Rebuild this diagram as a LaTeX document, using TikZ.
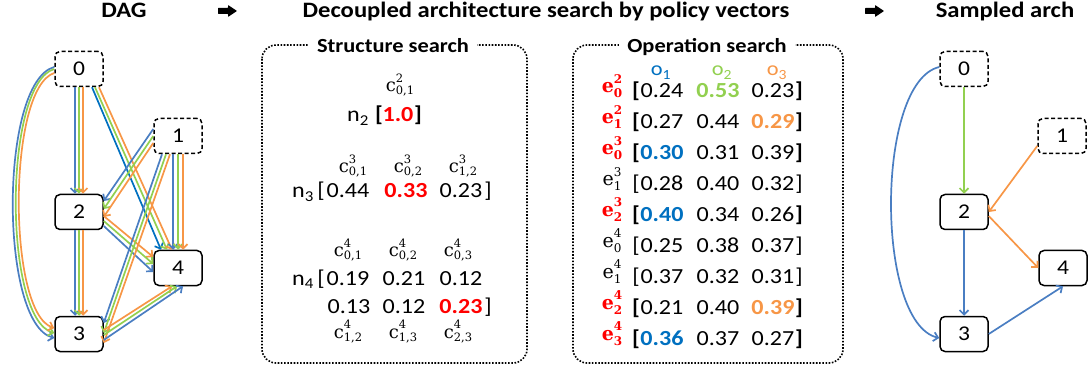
\documentclass[tikz,border=0pt]{standalone}
\usepackage[no-math]{fontspec}
\setmainfont[FakeStretch=1.12]{Carlito}
\newfontfamily\lserif{DejaVu Serif}
\usetikzlibrary{arrows.meta}
\definecolor{eblue}{HTML}{4A7EC2}
\definecolor{egreen}{HTML}{92D050}
\definecolor{eorange}{HTML}{F79646}
\definecolor{dblue}{HTML}{0070C0}
\definecolor{ered}{HTML}{FF0000}
\newcommand\numfont{\fontsize{21.5}{21.5}\selectfont}
\newcommand\scr{\fontsize{11.5}{11.5}\selectfont}
\newcommand\escr{\fontsize{12}{12}\selectfont}
\newcommand\Cl[2]{{\lserif\fontsize{18}{18}\selectfont c\rlap{\raisebox{9.5pt}{\scr #1}}\raisebox{-3pt}{\scr #2}}}
\newcommand\Ek[2]{{\lserif\fontsize{19}{19}\selectfont e\rlap{\raisebox{9.5pt}{\escr #1}}\raisebox{-5pt}{\escr #2}}}
\newcommand\Er[2]{\textcolor{ered}{\lserif\bfseries\fontsize{19}{19}\selectfont e\rlap{\raisebox{9.5pt}{\escr #1}}\raisebox{-5pt}{\escr #2}}}
\newcommand\Vb[2]{\textcolor{#1}{\bfseries #2}}
\tikzset{
  gbox/.style={draw, line width=1.5pt, rounded corners=5pt, minimum width=48pt,
    minimum height=35pt, inner sep=0pt, fill=white, font=\fontsize{21}{21}\selectfont},
  inbox/.style={gbox, dash pattern=on 4pt off 2.5pt},
  conn/.style={line width=1.7pt, -{Straight Barb[length=4.5pt,width=9pt]}},
  eB/.style={conn, draw=eblue}, eG/.style={conn, draw=egreen},
  eO/.style={conn, draw=eorange}, eD/.style={conn, draw=dblue},
  ttl/.style={font=\bfseries\fontsize{22}{22}\selectfont, inner sep=0pt, anchor=base},
  ptl/.style={font=\bfseries\fontsize{20}{20}\selectfont, inner xsep=8pt, inner ysep=3pt, anchor=base, fill=white},
  panel/.style={draw, line width=1.6pt, dash pattern=on 1.6pt off 1.6pt, rounded corners=14pt},
  num/.style={font=\numfont, inner sep=0pt, anchor=base},
  clab/.style={inner sep=0pt, anchor=base},
  elab/.style={inner sep=0pt, anchor=base},
  olab/.style={font=\fontsize{20}{20}\selectfont, inner sep=0pt, anchor=base},
  bigarrow/.style={fill=black, rounded corners=0.5pt},
}
\newcommand\OpRow[7]{%
  \node[elab] (e#1) at (612,#2-5) {#3};
  \node[num] (lb#1) at (636,#2) {#7[};
  \node[num] (a#1) at (662,#2) {#4};
  \node[num] (b#1) at (718,#2) {#5};
  \node[num] (c#1) at (773,#2) {#6};
  \node[num] (rb#1) at (799,#2) {#7]};
}
\begin{document}
\begin{tikzpicture}[x=1pt, y=-1pt]
\useasboundingbox (0,0) rectangle (1089,371);

% ---------- titles ----------
\node[ttl] (tdag) at (124,18) {DAG};
\fill[bigarrow] (218,8) -- (228,8) -- (228,5) -- (237,11) -- (228,17) -- (228,14) -- (218,14) -- cycle;
\node[ttl] (tmain) at (546,18) {Decoupled architecture search by policy vectors};
\fill[bigarrow] (865,8) -- (875,8) -- (875,5) -- (884,11) -- (875,17) -- (875,14) -- (865,14) -- cycle;
\node[ttl] (tsamp) at (1005,18) {Sampled arch};

% ---------- DAG ----------
\node[inbox] (d0) at (79,69) {0};
\node[inbox] (d1) at (178,136) {1};
\node[gbox] (d2) at (79,212) {2};
\node[gbox] (d4) at (178,268) {4};
\node[gbox] (d3) at (79,334) {3};

% 0 -> 3 (curves)
\draw[eB] ([yshift=2pt]d0.west) .. controls +(-55,15) and +(-55,-15) .. ([yshift=-4pt]d3.west);
\draw[eG] (d0.west) .. controls +(-51,15) and +(-51,-15) .. ([yshift=1pt]d3.west);
\draw[eO] ([yshift=-4pt]d0.west) .. controls +(-47,15) and +(-47,-15) .. ([yshift=6pt]d3.west);
% 0 -> 2
\draw[eB] ([xshift=-4pt]d0.south) -- ([xshift=-4pt]d2.north);
\draw[eG] (d0.south) -- (d2.north);
\draw[eO] ([xshift=4pt]d0.south) -- ([xshift=4pt]d2.north);
% 0 -> 4
\draw[eD] ([xshift=13pt]d0.south) -- ([xshift=-17pt]d4.north);
\draw[eG] ([xshift=16pt]d0.south) -- ([xshift=-11pt]d4.north);
\draw[eO] ([xshift=20pt]d0.south) -- ([xshift=-6pt]d4.north);
% 1 -> 4
\draw[eB] ([xshift=-5pt]d1.south) -- ([xshift=-5pt]d4.north);
\draw[eG] (d1.south) -- (d4.north);
\draw[eO] ([xshift=5pt]d1.south) -- ([xshift=5pt]d4.north);
% 1 -> 2
\draw[eB] ([yshift=7pt]d1.west) -- ([yshift=11pt]d2.east);
\draw[eG] (d1.west) -- ([yshift=3pt]d2.east);
\draw[eO] ([yshift=-7pt]d1.west) -- ([yshift=-5pt]d2.east);
% 2 -> 4
\draw[eO] ([yshift=-4pt]d2.east) -- ([yshift=11pt]d4.west);
\draw[eG] ([yshift=-9pt]d2.east) -- ([yshift=4pt]d4.west);
\draw[eB] ([yshift=-14pt]d2.east) -- ([yshift=-4pt]d4.west);
% 2 -> 3
\draw[eB] ([xshift=-4pt]d2.south) -- ([xshift=-4pt]d3.north);
\draw[eG] (d2.south) -- (d3.north);
\draw[eO] ([xshift=4pt]d2.south) -- ([xshift=4pt]d3.north);
% 1 -> 3
\draw[eB] ([xshift=-16pt]d1.south) -- ([yshift=11pt]d3.east);
\draw[eG] ([xshift=-12pt]d1.south) -- ([yshift=1pt]d3.east);
\draw[eO] ([xshift=-8pt]d1.south) -- ([yshift=-9pt]d3.east);
% 3 -> 4
\draw[eO] ([yshift=4pt]d3.east) -- ([xshift=-6pt]d4.south);
\draw[eG] ([yshift=-1pt]d3.east) -- ([xshift=-1pt]d4.south);
\draw[eB] ([yshift=-6pt]d3.east) -- ([xshift=5pt]d4.south);

% ---------- Structure search ----------
\draw[panel] (262,45) rectangle (527,363);
\node[ptl] (tss) at (393,53) {Structure search};

\node[clab] (c2a) at (400,92) {\Cl{2}{0,1}};
\node[num] (n2) at (358,122) {n\textsubscript{2}};
\node[num] (n2l) at (379,122) {\bfseries [};
\node[num] (n2v) at (398,122) {\Vb{ered}{1.0}};
\node[num] (n2r) at (418,122) {\bfseries ]};

\node[clab] (c3a) at (353,173) {\Cl{3}{0,1}};
\node[clab] (c3b) at (408,173) {\Cl{3}{0,2}};
\node[clab] (c3c) at (463,173) {\Cl{3}{1,2}};
\node[num] (n3) at (303,198) {n\textsubscript{3}};
\node[num] (n3l) at (321,198) {[};
\node[num] (n3a) at (348,198) {0.44};
\node[num] (n3b) at (406,198) {\Vb{ered}{0.33}};
\node[num] (n3c) at (461,198) {0.23};
\node[num] (n3r) at (488,198) {]};

\node[clab] (c4a) at (348,257) {\Cl{4}{0,1}};
\node[clab] (c4b) at (403,257) {\Cl{4}{0,2}};
\node[clab] (c4c) at (458,257) {\Cl{4}{0,3}};
\node[num] (n4) at (303,285) {n\textsubscript{4}};
\node[num] (n4l) at (321,285) {[};
\node[num] (n4a) at (348,285) {0.19};
\node[num] (n4b) at (404,285) {0.21};
\node[num] (n4c) at (461,285) {0.12};
\node[num] (n4d) at (349,313) {0.13};
\node[num] (n4e) at (404,313) {0.12};
\node[num] (n4f) at (461,313) {\Vb{ered}{0.23}};
\node[num] (n4r) at (488,313) {]};
\node[clab] (c4d) at (348,338) {\Cl{4}{1,2}};
\node[clab] (c4e) at (403,338) {\Cl{4}{1,3}};
\node[clab] (c4f) at (458,338) {\Cl{4}{2,3}};

% ---------- Operation search ----------
\draw[panel] (573,45) rectangle (843,363);
\node[ptl] (tos) at (707,53) {Operation search};

\node[olab] (o1) at (661,76) {\textcolor{dblue}{o\textsubscript{1}}};
\node[olab] (o2) at (722,76) {\textcolor{egreen}{o\textsubscript{2}}};
\node[olab] (o3) at (777,76) {\textcolor{eorange}{o\textsubscript{3}}};

\OpRow{1}{98}{\Er{2}{0}}{0.24}{\Vb{egreen}{0.53}}{0.23}{\bfseries}
\OpRow{2}{128.9}{\Er{2}{1}}{0.27}{0.44}{\Vb{eorange}{0.29}}{\bfseries}
\OpRow{3}{159.8}{\Er{3}{0}}{\Vb{dblue}{0.30}}{0.31}{0.39}{\bfseries}
\OpRow{4}{190.6}{\Ek{3}{1}}{0.28}{0.40}{0.32}{}
\OpRow{5}{221.5}{\Er{3}{2}}{\Vb{dblue}{0.40}}{0.34}{0.26}{\bfseries}
\OpRow{6}{252.4}{\Ek{4}{0}}{0.25}{0.38}{0.37}{}
\OpRow{7}{283.3}{\Ek{4}{1}}{0.37}{0.32}{0.31}{}
\OpRow{8}{314.1}{\Er{4}{2}}{0.21}{0.40}{\Vb{eorange}{0.39}}{\bfseries}
\OpRow{9}{345}{\Er{4}{3}}{\Vb{dblue}{0.36}}{0.37}{0.27}{\bfseries}

% ---------- Sampled arch ----------
\node[inbox] (s0) at (964,69) {0};
\node[inbox] (s1) at (1062,136) {1};
\node[gbox] (s2) at (964,212) {2};
\node[gbox] (s4) at (1063,268) {4};
\node[gbox] (s3) at (964,334) {3};
\draw[eG] (s0.south) -- (s2.north);
\draw[eB] ([yshift=2pt]s0.west) .. controls +(-64,15) and +(-64,-15) .. ([yshift=-4pt]s3.west);
\draw[eO] ([yshift=-10pt]s1.west) -- (s2.east);
\draw[eO] ([yshift=-4pt]s2.east) -- (s4.west);
\draw[eB] (s2.south) -- (s3.north);
\draw[eB] (s3.east) -- (s4.south);
\end{tikzpicture}
\end{document}
